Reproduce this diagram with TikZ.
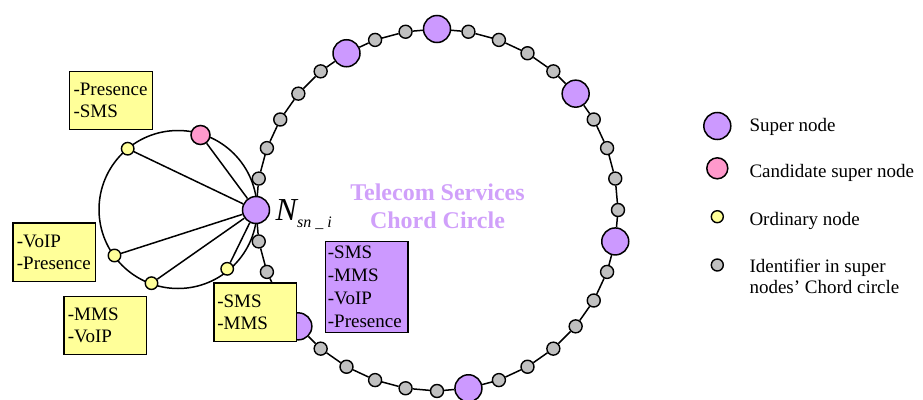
\documentclass[tikz,border=0pt]{standalone}
\usepackage{fontspec}
\setmainfont{Liberation Serif}
\definecolor{superc}{RGB}{204,153,255}
\definecolor{candc}{RGB}{255,153,204}
\definecolor{ordc}{RGB}{255,255,153}
\definecolor{idc}{RGB}{192,192,192}
\definecolor{titlec}{RGB}{208,160,250}
\begin{document}
\begin{tikzpicture}[x=1pt,y=-1pt,
  supernode/.style={circle,draw=black,line width=1.5pt,fill=superc,minimum size=27pt,inner sep=0pt},
  candnode/.style={circle,draw=black,line width=1.5pt,fill=candc,minimum size=19pt,inner sep=0pt},
  ordnode/.style={circle,draw=black,line width=1.4pt,fill=ordc,minimum size=12.5pt,inner sep=0pt},
  idnode/.style={circle,draw=black,line width=1.4pt,fill=idc,minimum size=13pt,inner sep=0pt},
  link/.style={line width=1.5pt},
  svcbox/.style={draw=black,line width=1.2pt,anchor=north west,minimum width=82.5pt,minimum height=58.5pt,
    inner xsep=4pt,inner ysep=0pt,text width=74.5pt,align=left,font=\fontsize{19}{21.7}\selectfont},
  legtext/.style={anchor=base west,inner sep=0pt,font=\fontsize{19}{20.7}\selectfont,align=left},
]
\useasboundingbox (0,0) rectangle (923,399);
% small circle
\draw[link] (178,209.5) circle[radius=79pt];
% big chord circle nodes
\foreach \i/\s in {0/supernode,1/idnode,2/idnode,3/idnode,4/idnode,5/idnode,6/supernode,7/idnode,8/idnode,
  9/supernode,10/idnode,11/idnode,12/idnode,13/idnode,14/supernode,15/idnode,16/idnode,17/idnode,18/idnode,
  19/supernode,20/idnode,21/idnode,22/idnode,23/idnode,24/idnode,25/idnode,26/supernode,27/idnode,28/idnode,
  29/idnode,30/idnode,31/idnode,32/supernode,33/idnode,34/idnode,35/idnode}{
  \pgfmathsetmacro\ang{180-10*\i}
  \pgfmathsetmacro\px{437+181*cos(\ang)}
  \pgfmathsetmacro\py{210-181*sin(\ang)}
  \node[\s] (b\i) at (\px,\py) {};
}
\foreach \i in {0,...,35}{
  \pgfmathtruncatemacro\j{mod(\i+1,36)}
  \draw[link] (b\i) -- (b\j);
}
% small circle nodes
\node[ordnode] (o1) at (127.7,148.7) {};
\node[candnode] (cand) at (200.5,135) {};
\node[ordnode] (o2) at (114.5,255.5) {};
\node[ordnode] (o3) at (151.5,283.2) {};
\node[ordnode] (o4) at (227.2,268.8) {};
\foreach \t in {o1,cand,o2,o3,o4}{\draw[link] (b0) -- (\t);}
% labels
\node[anchor=base west,inner sep=0pt] (nlabel) at (275.5,220.7)
  {\fontsize{32}{32}\selectfont\itshape N\raisebox{-6.6pt}{\fontsize{16}{16}\selectfont sn \_ i}};
\node[font=\bfseries\fontsize{24}{28.3}\selectfont,text=titlec,align=center,inner sep=0pt] (title)
  at (437.5,206) {Telecom Services\\Chord Circle};
% service boxes
\node[svcbox,fill=ordc] (box1) at (69,70.7) {-Presence\\-SMS};
\node[svcbox,fill=ordc] (box2) at (12.3,222.3) {-VoIP\\-Presence};
\node[svcbox,fill=ordc] (box3) at (63.3,295.7) {-MMS\\-VoIP};
\node[svcbox,fill=ordc,inner xsep=3.4pt,text width=75.7pt] (box4) at (213.3,282.3) {-SMS\\-MMS};
\node[svcbox,fill=superc,minimum width=82.3pt,minimum height=91pt,inner xsep=2.3pt,text width=77.7pt,
  font=\fontsize{19}{23.1}\selectfont] (box5) at (325,240.7) {-SMS\\-MMS\\-VoIP\\-Presence};
% legend
\node[supernode] (lsuper) at (717.3,126) {};
\node[candnode,minimum size=21pt] (lcand) at (717.3,168.3) {};
\node[ordnode,minimum size=12pt] (lord) at (717.3,216.7) {};
\node[idnode,minimum size=12pt] (lid) at (717.3,265) {};
\node[legtext] (tsuper) at (749.3,131.7) {Super node};
\node[legtext] (tcand) at (749.3,177.3) {Candidate super node};
\node[legtext] (tord) at (749.3,225) {Ordinary node};
\node[legtext] (tid) at (749.3,293.4) {Identifier in super\\nodes' Chord circle};
\end{tikzpicture}
\end{document}
